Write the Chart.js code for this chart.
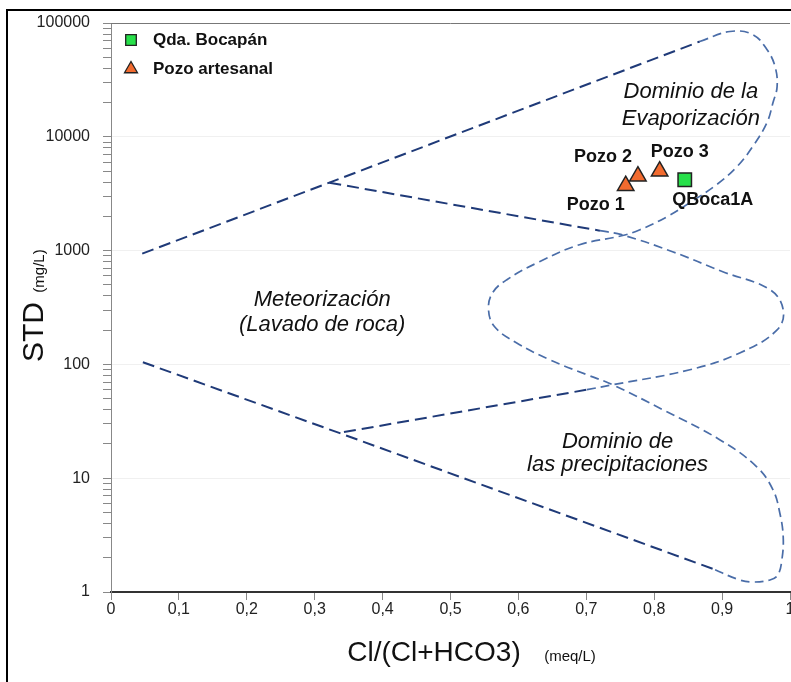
<!DOCTYPE html>
<html>
<head>
<meta charset="utf-8">
<script src="https://cdn.jsdelivr.net/npm/chart.js@4.4.1/dist/chart.umd.min.js"></script>
<style>
  html, body { margin: 0; padding: 0; background: #fff; overflow: hidden; }
  #wrap { position: relative; width: 791px; height: 682px; }
  #frame { position: absolute; left: 6px; top: 9px; width: 840px; height: 740px; border: 2px solid #000; box-sizing: border-box; }
  #chart { position: absolute; left: 0; top: 0; }
</style>
</head>
<body>
<div id="wrap">
  <div id="frame"></div>
  <canvas id="chart" width="791" height="682"></canvas>
</div>
<script>
const FONT = "'Liberation Sans', Arial, sans-serif";

// tick labels
const xTickLabels = ["0", "0,1", "0,2", "0,3", "0,4", "0,5", "0,6", "0,7", "0,8", "0,9", "1"];
const yTickLabels = ["1", "10", "100", "1000", "10000", "100000"];

// muestras
const pozoNames = ["Pozo 1", "Pozo 2", "Pozo 3"];
const pozoX = [0.758, 0.776, 0.808];
const pozoY = [3720, 4510, 4990];

const quebradaNames = ["QBoca1A"];
const quebradaX = [0.845];
const quebradaY = [4200];

// Gibbs: tramos rectos [Cl/(Cl+HCO3), STD]
const upperLine = [[0.046, 940], [0.3215, 3955], [0.867, 68700]];
const innerUpperLine = [[0.3215, 3955], [0.72, 1496]];
const innerLowerLine = [[0.70, 59.8], [0.336, 25.0]];
const lowerLine = [[0.886, 1.6], [0.336, 25.0], [0.046, 105]];

// Gibbs: tramos curvos
const outerCurve = [
  [0.867, 68700], [0.9115, 84200], [0.945, 79200], [0.966, 58500], [0.978, 41400],
  [0.981, 27600], [0.975, 20000], [0.966, 13300], [0.945, 8200], [0.922, 5470],
  [0.892, 3800], [0.8525, 2640], [0.819, 1985], [0.779, 1525], [0.752, 1350],
  [0.690, 1127], [0.631, 798], [0.583, 555], [0.562, 426], [0.556, 302],
  [0.565, 214], [0.597, 155], [0.646, 110], [0.701, 81.1], [0.739, 66.2],
  [0.813, 39.9], [0.897, 21.7], [0.951, 12.6], [0.975, 7.89], [0.985, 4.95],
  [0.990, 3.05], [0.988, 1.91], [0.982, 1.41], [0.9705, 1.275], [0.945, 1.224],
  [0.926, 1.275], [0.886, 1.6]
];
const innerCurve = [
  [0.72, 1496], [0.752, 1380], [0.827, 978], [0.901, 652], [0.9705, 453],
  [0.990, 302], [0.981, 201], [0.926, 126], [0.8525, 89.7], [0.739, 66.2],
  [0.70, 59.8]
];

// textos de las zonas
const regionLabels = [
  { lines: ["Dominio de la", "Evaporización"], x: 0.854, y: 25000, gap: 27 },
  { lines: ["Meteorización", "(Lavado de roca)"], x: 0.311, y: 370, gap: 25 },
  { lines: ["Dominio de", "las precipitaciones"], x: 0.746, y: 21, gap: 23 },
];
const pozoLabelOffsets = [[-30, 19], [-35, -19], [20, -19]];
const quebradaLabelOffsets = [[28, 20]];

function toPoints(pairs) {
  return pairs.map(([x, y]) => ({ x, y }));
}

function zip(xs, ys) {
  return xs.map((x, i) => ({ x, y: ys[i] }));
}

const darkLine = {
  borderColor: "#1f3a78",
  borderWidth: 2,
  borderDash: [12, 6],
  tension: 0,
  pointRadius: 0,
  showLine: true,
  fill: false,
};

const lightLine = {
  borderColor: "#4a6da8",
  borderWidth: 1.7,
  borderDash: [9, 5],
  tension: 0.4,
  pointRadius: 0,
  showLine: true,
  fill: false,
};

const decorPlugin = {
  id: "gibbsDecor",
  afterDraw(chart) {
    const { ctx, chartArea, scales } = chart;
    const x = scales.x;
    const y = scales.y;
    ctx.save();

    // borde superior del área
    ctx.strokeStyle = "#777";
    ctx.lineWidth = 1;
    ctx.beginPath();
    ctx.moveTo(chartArea.left, chartArea.top + 0.5);
    ctx.lineTo(chartArea.right, chartArea.top + 0.5);
    ctx.stroke();

    ctx.fillStyle = "#111";
    ctx.textAlign = "center";
    ctx.textBaseline = "middle";

    // zonas
    ctx.font = `italic 22px ${FONT}`;
    regionLabels.forEach((r) => {
      const px = x.getPixelForValue(r.x);
      const py = y.getPixelForValue(r.y);
      r.lines.forEach((t, i) => ctx.fillText(t, px, py + i * r.gap));
    });

    // etiquetas de muestras
    ctx.font = `bold 18px ${FONT}`;
    pozoNames.forEach((name, i) => {
      const px = x.getPixelForValue(pozoX[i]) + pozoLabelOffsets[i][0];
      const py = y.getPixelForValue(pozoY[i]) + pozoLabelOffsets[i][1];
      ctx.fillText(name, px, py);
    });
    quebradaNames.forEach((name, i) => {
      const px = x.getPixelForValue(quebradaX[i]) + quebradaLabelOffsets[i][0];
      const py = y.getPixelForValue(quebradaY[i]) + quebradaLabelOffsets[i][1];
      ctx.fillText(name, px, py);
    });

    // leyenda
    const legendItems = [
      { text: "Qda. Bocapán", style: "rect", color: "#27e04a", radius: 7.5, y: 40 },
      { text: "Pozo artesanal", style: "triangle", color: "#f26b2f", radius: 7.5, y: 69 },
    ];
    legendItems.forEach((item) => {
      ctx.fillStyle = item.color;
      ctx.strokeStyle = "#222";
      ctx.lineWidth = 1.3;
      Chart.helpers.drawPoint(ctx, { pointStyle: item.style, radius: item.radius, rotation: 0, borderWidth: 1.3 }, 131, item.y);
      ctx.fillStyle = "#111";
      ctx.font = `bold 17px ${FONT}`;
      ctx.textAlign = "left";
      ctx.fillText(item.text, 153, item.y);
    });

    // títulos de ejes
    ctx.fillStyle = "#111";
    ctx.textAlign = "center";
    ctx.font = `30px ${FONT}`;
    ctx.save();
    ctx.translate(35, 332);
    ctx.rotate(-Math.PI / 2);
    ctx.fillText("STD", 0, 0);
    ctx.restore();
    ctx.font = `15px ${FONT}`;
    ctx.save();
    ctx.translate(40, 271);
    ctx.rotate(-Math.PI / 2);
    ctx.fillText("(mg/L)", 0, 0);
    ctx.restore();

    ctx.font = `28px ${FONT}`;
    ctx.fillText("Cl/(Cl+HCO3)", 434, 653);
    ctx.font = `15px ${FONT}`;
    ctx.fillText("(meq/L)", 570, 657);

    ctx.restore();
  },
};

new Chart(document.getElementById("chart"), {
  type: "scatter",
  data: {
    datasets: [
      {
        label: "Qda. Bocapán",
        data: zip(quebradaX, quebradaY),
        pointStyle: "rect",
        pointRadius: 9.5,
        backgroundColor: "#27e04a",
        borderColor: "#222",
        borderWidth: 1.5,
      },
      {
        label: "Pozo artesanal",
        data: zip(pozoX, pozoY),
        pointStyle: "triangle",
        pointRadius: 9.5,
        backgroundColor: "#f26b2f",
        borderColor: "#222",
        borderWidth: 1.5,
      },
      { label: "upper", data: toPoints(upperLine), ...darkLine },
      { label: "innerUpper", data: toPoints(innerUpperLine), ...darkLine },
      { label: "innerLower", data: toPoints(innerLowerLine), ...darkLine },
      { label: "lower", data: toPoints(lowerLine), ...darkLine },
      { label: "outerCurve", data: toPoints(outerCurve), ...lightLine },
      { label: "innerCurve", data: toPoints(innerCurve), ...lightLine },
    ],
  },
  options: {
    responsive: false,
    animation: false,
    events: [],
    layout: { autoPadding: false, padding: { top: 23, right: 1, left: 0, bottom: 0 } },
    plugins: {
      legend: { display: false },
      tooltip: { enabled: false },
    },
    scales: {
      x: {
        type: "linear",
        min: 0,
        max: 1,
        ticks: {
          stepSize: 0.1,
          autoSkip: false,
          maxRotation: 0,
          padding: 0,
          color: "#222",
          font: { family: FONT, size: 16 },
          callback: (value, index) => xTickLabels[index],
        },
        grid: {
          drawOnChartArea: false,
          tickLength: 8,
          tickColor: "#888",
        },
        border: { color: "#333", width: 2 },
        afterFit: (scale) => {
          scale.height = 90;
          scale.paddingLeft = 0;
          scale.paddingRight = 0;
        },
      },
      y: {
        type: "logarithmic",
        min: 1,
        max: 100000,
        afterBuildTicks: (scale) => {
          const ticks = [];
          yTickLabels.forEach((lab, i) => {
            const base = Number(lab);
            ticks.push({ value: base });
            if (i < yTickLabels.length - 1) {
              for (let m = 2; m <= 9; m++) ticks.push({ value: base * m });
            }
          });
          scale.ticks = ticks;
        },
        ticks: {
          autoSkip: false,
          padding: 13,
          color: "#222",
          font: { family: FONT, size: 16 },
          callback: (value) => (yTickLabels.includes(String(value)) ? String(value) : ""),
        },
        grid: {
          color: (c) => (c.tick && yTickLabels.includes(String(c.tick.value)) ? "#f0f0f0" : "rgba(0,0,0,0)"),
          tickColor: "#888",
          tickLength: 8,
        },
        border: { color: "#888", width: 1 },
        afterFit: (scale) => {
          scale.width = 111;
        },
      },
    },
  },
  plugins: [decorPlugin],
});
</script>
</body>
</html>
